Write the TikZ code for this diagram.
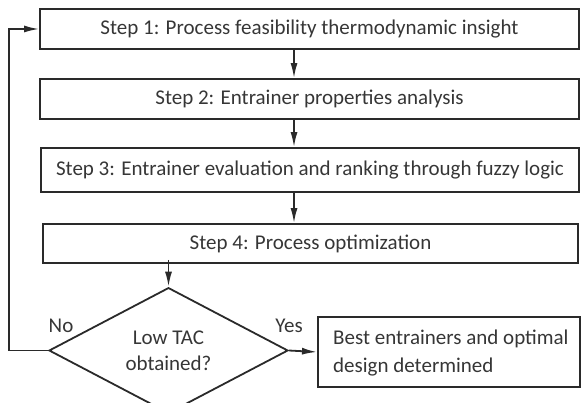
\documentclass[tikz,border=0pt]{standalone}
\usepackage{fontspec}
\setmainfont{Carlito}
\usetikzlibrary{arrows.meta,shapes.geometric}
\definecolor{ink}{HTML}{2A2A2A}
\definecolor{txt}{HTML}{363636}
\begin{document}
\begin{tikzpicture}[x=1pt,y=-1pt,
  stepbox/.style={draw=ink,line width=1.8pt,rectangle,inner sep=0pt,text=txt,font=\fontsize{21}{24}\selectfont},
  arr/.style={draw=ink,line width=1.8pt,-{Latex[length=15pt,width=7pt]}},
  lbl/.style={text=txt,font=\fontsize{21}{24}\selectfont,inner sep=0pt}]
\useasboundingbox (0,0) rectangle (581,403);
\node[stepbox,minimum width=539,minimum height=40] (b1) at (309.5,29) {Step 1: Process feasibility thermodynamic insight};
\node[stepbox,minimum width=539,minimum height=40] (b2) at (309.5,99) {Step 2: Entrainer properties analysis};
\node[stepbox,minimum width=538,minimum height=44] (b3) at (310,170) {Step 3: Entrainer evaluation and ranking through fuzzy logic};
\node[stepbox,minimum width=535,minimum height=39] (b4) at (310.5,243.5) {Step 4: Process optimization};
\node[stepbox,diamond,minimum width=239,minimum height=105,align=center] (d) at (168.5,350.5) {Low TAC\\[2pt]obtained?};
\node[stepbox,minimum width=262,minimum height=70,align=left,anchor=west] (b5) at (317,352) {};
\node[lbl,anchor=west,align=left] (t5) at (333,353) {Best entrainers and optimal\\[4pt]design determined};
\node[lbl] (no) at (61,326) {No};
\node[lbl] (yes) at (289,326) {Yes};
\coordinate (ax) at (294,0);
\coordinate (dx) at (168.5,0);
\coordinate (lx) at (9,0);
\draw[arr] (b1.south -| ax) -- (b2.north -| ax);
\draw[arr] (b2.south -| ax) -- (b3.north -| ax);
\draw[arr] (b3.south -| ax) -- (b4.north -| ax);
\draw[arr] ([yshift=4pt]b4.south -| dx) -- (d.north);
\draw[arr] (d.west) -- (d.west -| lx) -- (b1.west -| lx) -- (b1.west);
\draw[arr] (d.east) -- (b5.west);
\end{tikzpicture}
\end{document}
